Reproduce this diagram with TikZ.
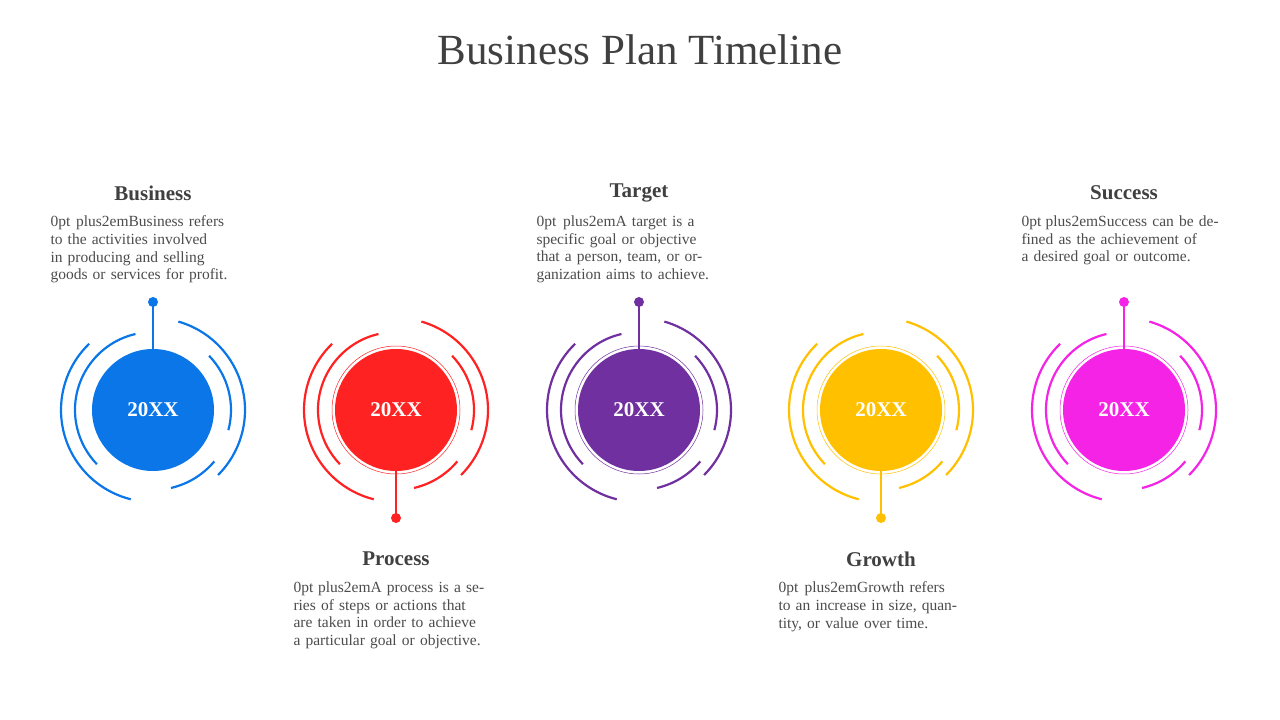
\documentclass[tikz,border=0pt]{standalone}
\usepackage{fontspec}
\setmainfont{Liberation Serif}
\begin{document}
\begin{tikzpicture}[x=1pt,y=-1pt,
  arcl/.style={line width=2.2pt},
  head/.style={font=\fontsize{21}{24}\selectfont\bfseries,text=black!75},
  body/.style={font=\fontsize{15.5}{17.8}\selectfont\hyphenpenalty=10000,text=black!70,align=center,text width=205pt}]
\useasboundingbox (0,0) rectangle (1280,720);
\node[font=\fontsize{43}{48}\selectfont,text=black!75] (title) at (640,50) {Business Plan Timeline};
\definecolor{cA}{HTML}{0A76E8}
\definecolor{cB}{HTML}{FF2222}
\definecolor{cC}{HTML}{7030A0}
\definecolor{cD}{HTML}{FFC000}
\definecolor{cE}{HTML}{F423E6}
\foreach \n/\x/\c/\d/\ring in {a/153/cA/1/0, b/396/cB/-1/1, c/639/cC/1/1, d/881/cD/-1/1, e/1124/cE/1/1}{
  \begin{scope}[shift={(\x,410)},yscale=-1]
    \fill[\c] (0,0) circle (61);
    \ifnum\ring=1 \draw[\c,line width=0.5pt] (0,0) circle (64); \fi
    \node[font=\fontsize{21}{24}\selectfont\bfseries,text=white] (y\n) at (0,0) {20XX};
    \draw[\c,arcl] (134:92) arc[start angle=134,end angle=256,radius=92];
    \draw[\c,arcl] (103:78) arc[start angle=103,end angle=224,radius=78];
    \draw[\c,arcl] (74:92) arc[start angle=74,end angle=-45,radius=92];
    \draw[\c,arcl] (44:78) arc[start angle=44,end angle=-15,radius=78];
    \draw[\c,arcl] (-77:80) arc[start angle=-77,end angle=-40,radius=80];
    \coordinate (s\n) at (0,{\d*61});
    \coordinate (p\n) at (0,{\d*108});
    \draw[\c,line width=2.2pt] (s\n) -- (p\n);
    \fill[\c] (p\n) circle (5);
  \end{scope}}
\node[head] (h1) at (153,193) {Business};
\node[body,anchor=north] (t1) at (153,212) {Business refers to the activities involved in producing and selling goods or services for profit.};
\node[head] (h3) at (639,193) {Target};
\node[body,anchor=north] (t3) at (639,212) {A target is a specific goal or objective that a person, team, or organization aims to achieve.};
\node[head] (h5) at (1124,193) {Success};
\node[body,anchor=north] (t5) at (1124,212) {Success can be defined as the achievement of a desired goal or outcome.};
\node[head] (h2) at (396,559) {Process};
\node[body,anchor=north] (t2) at (396,578) {A process is a series of steps or actions that are taken in order to achieve a particular goal or objective.};
\node[head] (h4) at (881,559) {Growth};
\node[body,anchor=north] (t4) at (881,578) {Growth refers to an increase in size, quantity, or value over time.};
\end{tikzpicture}
\end{document}
